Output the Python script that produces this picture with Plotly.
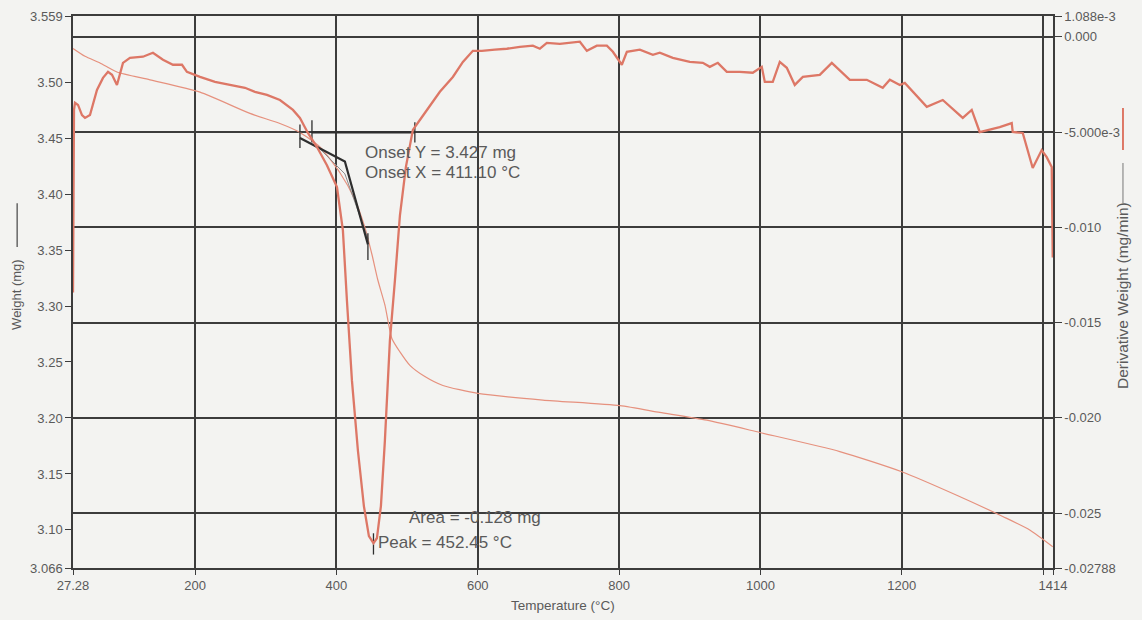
import plotly.graph_objects as go

# Thermogravimetric run: weight loss and its derivative versus temperature
temp_w = [27.28, 44.3, 65.5, 89.5, 136.2, 207.0, 277.7, 320.1, 348.4, 376.7, 405.0,
          426.2, 440.4, 450.3, 458.7, 468.6, 478.5, 489.9, 504.0, 525.2, 550.7,
          600.2, 692.1, 801.2, 857.6, 924.2, 999.2, 1112.3, 1200.0, 1277.8,
          1342.9, 1381.1, 1413.7]
weight_mg = [3.530, 3.523, 3.517, 3.509, 3.502, 3.491, 3.472, 3.463, 3.455, 3.442, 3.419,
             3.395, 3.370, 3.346, 3.323, 3.301, 3.271, 3.259, 3.247, 3.237, 3.229,
             3.222, 3.216, 3.211, 3.205, 3.198, 3.187, 3.170, 3.152, 3.131,
             3.112, 3.100, 3.085]

temp_d = [27.28, 28.7, 30.1, 34.4, 40.0, 44.3, 51.3, 61.2, 69.7, 76.8, 82.5, 89.5, 98.0,
          107.9, 126.3, 140.4, 154.6, 168.7, 181.5, 188.5, 207.0, 228.2, 249.4, 270.6,
          284.7, 301.7, 320.1, 338.5, 348.4, 359.7, 372.5, 386.6, 400.8, 409.2, 414.9,
          422.0, 430.5, 438.9, 446.0, 452.45, 457.3, 463.0, 468.6, 475.7, 482.8, 489.9,
          498.3, 508.2, 518.1, 532.3, 546.4, 564.8, 579.0, 593.1, 605.8, 624.2, 641.2,
          659.6, 678.0, 687.9, 697.8, 716.2, 734.6, 744.5, 754.4, 768.5, 782.7, 791.2,
          803.9, 811.0, 829.4, 847.8, 857.6, 876.0, 900.1, 918.5, 928.4, 939.7, 952.4,
          970.8, 989.2, 1001.9, 1006.2, 1017.5, 1027.4, 1037.3, 1048.6, 1060.0, 1084.0,
          1101.0, 1126.5, 1150.5, 1173.1, 1183.1, 1197.2, 1204.3, 1235.4, 1258.0,
          1286.3, 1299.0, 1310.3, 1338.6, 1355.6, 1357.0, 1371.2, 1385.3, 1398.0,
          1405.1, 1412.2, 1413.6]
deriv_mg_min = [-0.01342, -0.00384, -0.00347, -0.00358, -0.00411, -0.00426, -0.00411,
                -0.00279, -0.00216, -0.00184, -0.00200, -0.00253, -0.00137, -0.00111,
                -0.00105, -0.00084, -0.00121, -0.00147, -0.00147, -0.00184, -0.00211,
                -0.00237, -0.00253, -0.00268, -0.00289, -0.00305, -0.00332, -0.00384,
                -0.00426, -0.00505, -0.00579, -0.00674, -0.00789, -0.01016, -0.01384,
                -0.01805, -0.02174, -0.02463, -0.02621, -0.02658, -0.02632, -0.02463,
                -0.02121, -0.01595, -0.01279, -0.00937, -0.00684, -0.00489, -0.00437,
                -0.00363, -0.00289, -0.00211, -0.00132, -0.00074, -0.00074, -0.00068,
                -0.00063, -0.00053, -0.00047, -0.00063, -0.00032, -0.00037, -0.00032,
                -0.00026, -0.00074, -0.00047, -0.00047, -0.00079, -0.00147, -0.00079,
                -0.00068, -0.00095, -0.00084, -0.00111, -0.00132, -0.00137, -0.00158,
                -0.00137, -0.00184, -0.00184, -0.00189, -0.00158, -0.00237, -0.00237,
                -0.00132, -0.00163, -0.00253, -0.00211, -0.00200, -0.00137, -0.00226,
                -0.00226, -0.00268, -0.00226, -0.00253, -0.00242, -0.00368, -0.00332,
                -0.00426, -0.00384, -0.00500, -0.00474, -0.00453, -0.00500, -0.00505,
                -0.00689, -0.00595, -0.00632, -0.00684, -0.01158]

# Onset construction (tangents) and peak marker, in temperature / weight units
onset_base_t = [365.4, 511.0]
onset_base_w = [3.455, 3.455]
onset_tan_t = [348.4, 412.0, 444.6]
onset_tan_w = [3.450, 3.429, 3.355]
onset_aux_t = [372.5, 412.0, 444.6]
onset_aux_w = [3.443, 3.418, 3.360]
tick_marks = [  # (temperature, weight from, weight to)
    (348.4, 3.462, 3.441),
    (365.4, 3.466, 3.446),
    (511.0, 3.464, 3.446),
    (444.6, 3.365, 3.341),
    (452.45, 3.097, 3.078),
]

x_ticks = [27.28, 200, 400, 600, 800, 1000, 1200, 1400, 1414]
x_labels = ["27.28", "200", "400", "600", "800", "1000", "1200", "", "1414"]
w_ticks = [3.066, 3.10, 3.15, 3.20, 3.25, 3.30, 3.35, 3.40, 3.45, 3.50, 3.559]
w_labels = ["3.066", "3.10", "3.15", "3.20", "3.25", "3.30", "3.35", "3.40", "3.45", "3.50", "3.559"]
d_ticks = [-0.02788, -0.025, -0.020, -0.015, -0.010, -0.005, 0.0, 0.001088]
d_labels = ["-0.02788", "-0.025", "-0.020", "-0.015", "-0.010", "-5.000e-3", "0.000", "1.088e-3"]

FONT = "Liberation Sans, Arial, sans-serif"
GRID = "#3c3c3c"
TXT = "#5a5a5a"
RED = "#dd7766"
RED_LIGHT = "#e6917e"
BG = "#f3f3f1"

fig = go.Figure()

fig.add_trace(go.Scatter(x=temp_d, y=deriv_mg_min, yaxis="y2", mode="lines",
                         line=dict(color=RED, width=2.3), hoverinfo="skip"))
fig.add_trace(go.Scatter(x=temp_w, y=weight_mg, yaxis="y", mode="lines",
                         line=dict(color=RED_LIGHT, width=1.2, shape="spline", smoothing=0.6),
                         hoverinfo="skip"))

# onset tangents
fig.add_trace(go.Scatter(x=onset_aux_t, y=onset_aux_w, mode="lines",
                         line=dict(color="#8a8a8a", width=1), hoverinfo="skip"))
fig.add_trace(go.Scatter(x=onset_base_t, y=onset_base_w, mode="lines",
                         line=dict(color="#2e2e2e", width=2.2), hoverinfo="skip"))
fig.add_trace(go.Scatter(x=onset_tan_t, y=onset_tan_w, mode="lines",
                         line=dict(color="#2e2e2e", width=2.2), hoverinfo="skip"))
for t, w0, w1 in tick_marks:
    fig.add_trace(go.Scatter(x=[t, t], y=[w0, w1], mode="lines",
                             line=dict(color="#2e2e2e", width=1.3), hoverinfo="skip"))

notes = [
    (437.5, 3.4367, "Onset Y = 3.427 mg"),
    (437.5, 3.4188, "Onset X = 411.10 °C"),
    (499.8, 3.1107, "Area = -0.128 mg"),
    (455.9, 3.0884, "Peak = 452.45 °C"),
]
for t, w, s in notes:
    fig.add_annotation(x=t, y=w, xref="x", yref="y", text=s, showarrow=False,
                       xanchor="left", yanchor="middle",
                       font=dict(family=FONT, size=17, color=TXT))

# axis titles with their line keys
fig.add_annotation(x=0.5, y=-0.0688, xref="paper", yref="paper", text="Temperature (°C)",
                   showarrow=False, xanchor="center", yanchor="middle",
                   font=dict(family=FONT, size=13.5, color=TXT))
fig.add_annotation(x=-0.057, y=0.495, xref="paper", yref="paper", text="Weight (mg)",
                   textangle=-90, showarrow=False, xanchor="center", yanchor="middle",
                   font=dict(family=FONT, size=13, color=TXT))
fig.add_shape(type="line", xref="paper", yref="paper", x0=-0.057, x1=-0.057,
              y0=0.5815, y1=0.661, line=dict(color="#444444", width=1.2))
fig.add_annotation(x=1.0714, y=0.4946, xref="paper", yref="paper",
                   text="Derivative Weight (mg/min)", textangle=-90, showarrow=False,
                   xanchor="center", yanchor="middle",
                   font=dict(family=FONT, size=15.5, color=TXT))
fig.add_shape(type="line", xref="paper", yref="paper", x0=1.0714, x1=1.0714,
              y0=0.6612, y1=0.7337, line=dict(color="#777777", width=1))
fig.add_shape(type="line", xref="paper", yref="paper", x0=1.0714, x1=1.0714,
              y0=0.7572, y1=0.8333, line=dict(color=RED, width=2))

axis_common = dict(showline=True, linecolor=GRID, linewidth=1.5, ticks="outside",
                   tickcolor=GRID, tickwidth=1.3, zeroline=False, automargin=False,
                   tickfont=dict(family=FONT, size=13, color=TXT))

fig.update_layout(
    width=1142, height=620,
    margin=dict(l=73, r=89, t=16, b=52),
    paper_bgcolor=BG, plot_bgcolor=BG,
    showlegend=False,
    xaxis=dict(range=[27.28, 1414], tickmode="array", tickvals=x_ticks, ticktext=x_labels,
               showgrid=True, gridcolor=GRID, gridwidth=1.5, mirror=True, ticklen=5,
               **axis_common),
    yaxis=dict(range=[3.066, 3.559], tickmode="array", tickvals=w_ticks, ticktext=w_labels,
               showgrid=False, ticklen=6, **axis_common),
    yaxis2=dict(range=[-0.02788, 0.001088], tickmode="array", tickvals=d_ticks,
                ticktext=d_labels, overlaying="y", side="right", anchor="x",
                showgrid=True, gridcolor=GRID, gridwidth=1.5, ticklen=7, **axis_common),
)

fig.write_html("out.html")
